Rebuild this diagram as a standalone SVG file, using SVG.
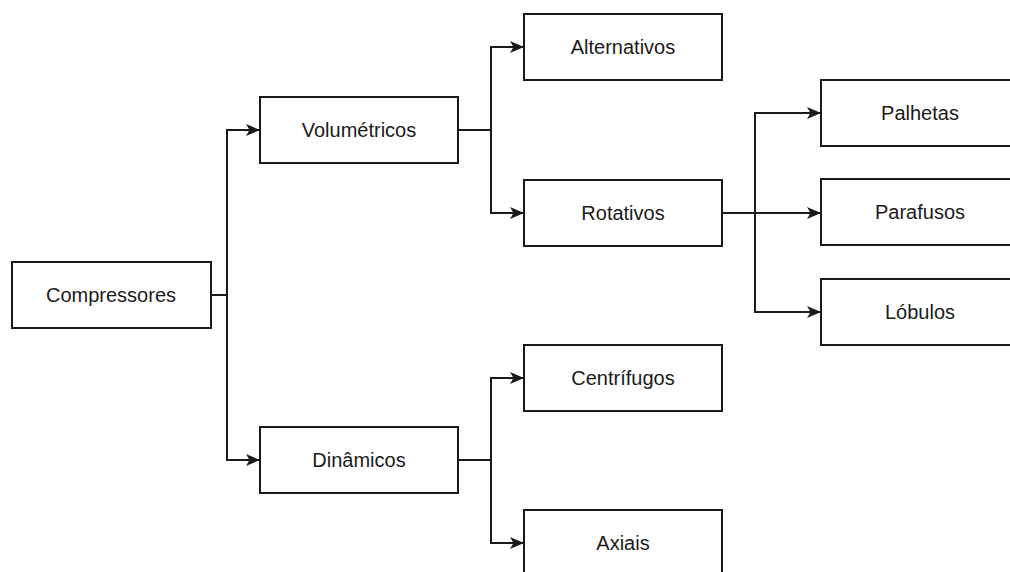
<svg xmlns="http://www.w3.org/2000/svg" width="1010" height="572" viewBox="0 0 1010 572">
<style>
.box{fill:#fff;stroke:#1a1a1a;stroke-width:2}
.lbl{font-family:"Liberation Sans",Arial,sans-serif;font-size:20px;fill:#1a1a1a;text-anchor:middle;dominant-baseline:central}
.edge{fill:none;stroke:#1a1a1a;stroke-width:2}
</style>
<defs>
<marker id="arr" viewBox="0 0 14 12" refX="13" refY="6" markerWidth="14" markerHeight="12" markerUnits="userSpaceOnUse" orient="auto">
<path d="M0,0 L14,6 L0,12 L3.5,6 z" fill="#1a1a1a"/>
</marker>
</defs>
<rect width="1010" height="572" fill="#fff"/>
<g id="connectors">
<path class="edge" d="M211,295 H227 V130 H259" marker-end="url(#arr)"/>
<path class="edge" d="M227,295 V460 H259" marker-end="url(#arr)"/>
<path class="edge" d="M458,130 H491 V47 H523" marker-end="url(#arr)"/>
<path class="edge" d="M491,130 V213 H523" marker-end="url(#arr)"/>
<path class="edge" d="M458,460 H491 V378 H523" marker-end="url(#arr)"/>
<path class="edge" d="M491,460 V543 H523" marker-end="url(#arr)"/>
<path class="edge" d="M722,213 H755 V113 H820" marker-end="url(#arr)"/>
<path class="edge" d="M755,213 H820" marker-end="url(#arr)"/>
<path class="edge" d="M755,213 V312 H820" marker-end="url(#arr)"/>
</g>
<g id="compressores"><rect class="box" x="12" y="262" width="199" height="66"/><text class="lbl" x="111" y="295">Compressores</text></g>
<g id="volumetricos"><rect class="box" x="260" y="97" width="198" height="66"/><text class="lbl" x="359" y="130">Volumétricos</text></g>
<g id="dinamicos"><rect class="box" x="260" y="427" width="198" height="66"/><text class="lbl" x="359" y="460">Dinâmicos</text></g>
<g id="alternativos"><rect class="box" x="524" y="14" width="198" height="66"/><text class="lbl" x="623" y="47">Alternativos</text></g>
<g id="rotativos"><rect class="box" x="524" y="180" width="198" height="66"/><text class="lbl" x="623" y="213">Rotativos</text></g>
<g id="centrifugos"><rect class="box" x="524" y="345" width="198" height="66"/><text class="lbl" x="623" y="378">Centrífugos</text></g>
<g id="axiais"><rect class="box" x="524" y="510" width="198" height="66"/><text class="lbl" x="623" y="543">Axiais</text></g>
<g id="palhetas"><rect class="box" x="821" y="80" width="198" height="66"/><text class="lbl" x="920" y="113">Palhetas</text></g>
<g id="parafusos"><rect class="box" x="821" y="179" width="198" height="66"/><text class="lbl" x="920" y="212">Parafusos</text></g>
<g id="lobulos"><rect class="box" x="821" y="279" width="198" height="66"/><text class="lbl" x="920" y="312">Lóbulos</text></g>
</svg>
